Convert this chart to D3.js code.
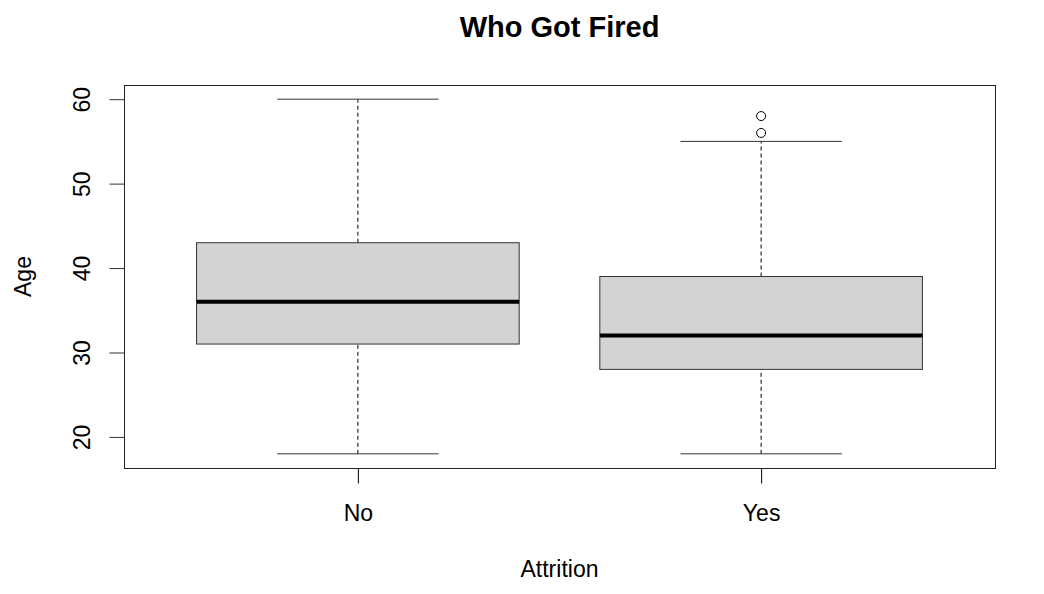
<!DOCTYPE html>
<html>
    <head>
        <title>Who Got Fired</title>
        <script src="https://d3js.org/d3.v7.min.js"></script>
        <style>
            body { margin: 0; background: #fff; }
            text { font-family: "Liberation Sans", Arial, sans-serif; fill: #000; }
        </style>
    </head>
    <body>
        <script>
            // box stats
            const groups = ["No", "Yes"];
            const lowWhisker = [18, 18];
            const q1 = [31, 28];
            const medians = [36, 32];
            const q3 = [43, 39];
            const highWhisker = [60, 55];
            const outliers = [[], [56, 58]];
            const yTicks = [20, 30, 40, 50, 60];

            const width = 1044;
            const height = 594;
            const margin = {top: 85, right: 49, bottom: 126, left: 124};

            const svg = d3.select("body")
                .append("svg")
                .attr("width", width)
                .attr("height", height);

            // R style 4% padding on both axes
            const yMin = 18 - 42 * 0.04, yMax = 60 + 42 * 0.04;
            const y = d3.scaleLinear()
                .domain([yMin, yMax])
                .range([height - margin.bottom, margin.top]);

            const x = d3.scaleLinear()
                .domain([0.42, 2.58])
                .range([margin.left, width - margin.right]);

            const boxes = groups.map((g, i) => ({
                name: g, pos: i + 1,
                lo: lowWhisker[i], q1: q1[i], med: medians[i], q3: q3[i], hi: highWhisker[i],
                out: outliers[i]
            }));

            const g = svg.selectAll(".box")
                .data(boxes)
                .enter()
                .append("g")
                .attr("class", "box");

            // whiskers (dashed)
            g.append("line")
                .attr("x1", d => x(d.pos)).attr("x2", d => x(d.pos))
                .attr("y1", d => y(d.lo)).attr("y2", d => y(d.q1))
                .attr("stroke", "#000").attr("stroke-dasharray", "4,3");
            g.append("line")
                .attr("x1", d => x(d.pos)).attr("x2", d => x(d.pos))
                .attr("y1", d => y(d.q3)).attr("y2", d => y(d.hi))
                .attr("stroke", "#000").attr("stroke-dasharray", "4,3");

            // staples
            ["lo", "hi"].forEach(k => {
                g.append("line")
                    .attr("x1", d => x(d.pos - 0.2)).attr("x2", d => x(d.pos + 0.2))
                    .attr("y1", d => y(d[k])).attr("y2", d => y(d[k]))
                    .attr("stroke", "#333");
            });

            g.append("rect")
                .attr("x", d => x(d.pos - 0.4))
                .attr("width", d => x(d.pos + 0.4) - x(d.pos - 0.4))
                .attr("y", d => y(d.q3))
                .attr("height", d => y(d.q1) - y(d.q3))
                .attr("fill", "#d3d3d3")
                .attr("stroke", "#333");

            g.append("line")
                .attr("x1", d => x(d.pos - 0.4)).attr("x2", d => x(d.pos + 0.4))
                .attr("y1", d => y(d.med)).attr("y2", d => y(d.med))
                .attr("stroke", "#000").attr("stroke-width", 4);

            g.selectAll("circle")
                .data(d => d.out.map(v => ({pos: d.pos, v: v})))
                .enter()
                .append("circle")
                .attr("cx", d => x(d.pos))
                .attr("cy", d => y(d.v))
                .attr("r", 4.5)
                .attr("fill", "none")
                .attr("stroke", "#000");

            // frame
            svg.append("rect")
                .attr("x", margin.left + 0.5)
                .attr("y", margin.top + 0.5)
                .attr("width", width - margin.left - margin.right)
                .attr("height", height - margin.top - margin.bottom)
                .attr("fill", "none")
                .attr("stroke", "#222");

            // y axis
            const yAxis = svg.append("g")
                .attr("transform", "translate(" + (margin.left + 0.5) + ",0)")
                .call(d3.axisLeft(y).tickValues(yTicks).tickSize(15).tickPadding(0).tickFormat(d3.format("d")));
            yAxis.select(".domain").remove();
            yAxis.selectAll(".tick line").attr("stroke", "#333");
            yAxis.selectAll(".tick text")
                .attr("x", 0).attr("y", 0).attr("dy", null)
                .attr("transform", "translate(-35,0) rotate(-90)")
                .attr("text-anchor", "middle")
                .style("font-size", "23px");

            // x axis
            const xAxis = svg.append("g")
                .attr("transform", "translate(0," + (height - margin.bottom + 0.5) + ")")
                .call(d3.axisBottom(x).tickValues([1, 2]).tickSize(15).tickPadding(0)
                    .tickFormat(d => groups[d - 1]));
            xAxis.select(".domain").remove();
            xAxis.selectAll(".tick line").attr("stroke", "#000");
            xAxis.selectAll(".tick text")
                .attr("y", 52).attr("dy", null)
                .style("font-size", "23px");

            svg.append("text")
                .attr("x", (margin.left + width - margin.right) / 2)
                .attr("y", 577)
                .attr("text-anchor", "middle")
                .style("font-size", "23px")
                .text("Attrition");

            svg.append("text")
                .attr("transform", "translate(31," + ((margin.top + height - margin.bottom) / 2) + ") rotate(-90)")
                .attr("text-anchor", "middle")
                .style("font-size", "23px")
                .text("Age");

            svg.append("text")
                .attr("x", (margin.left + width - margin.right) / 2)
                .attr("y", 37)
                .attr("text-anchor", "middle")
                .style("font-size", "29px")
                .style("font-weight", "bold")
                .text("Who Got Fired");
        </script>
    </body>
</html>
